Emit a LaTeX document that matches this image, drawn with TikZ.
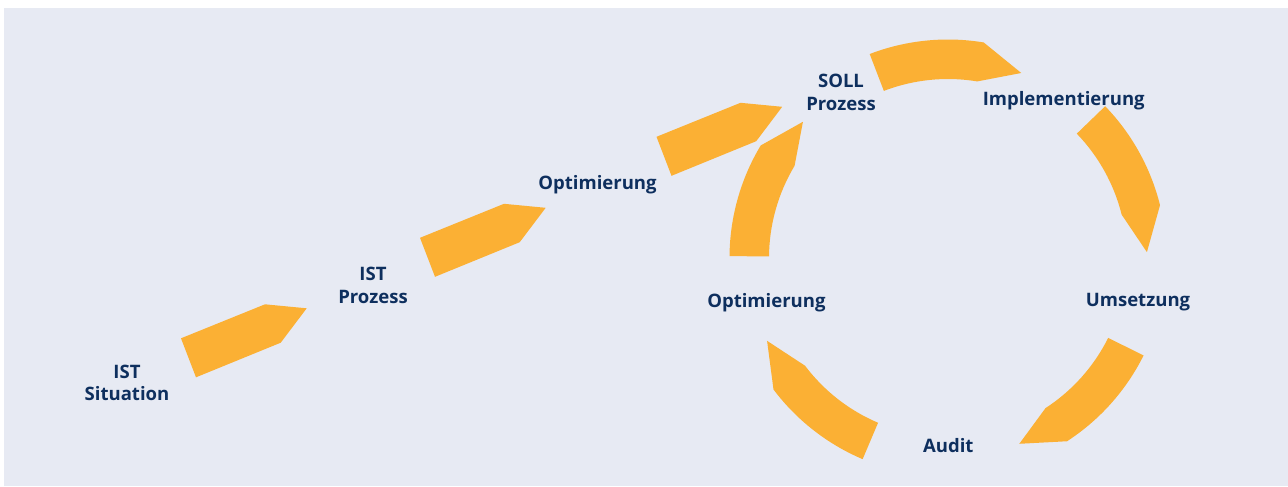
\documentclass[tikz,border=0pt]{standalone}
\usepackage{fontspec}
\setmainfont{Open Sans}
\usetikzlibrary{calc}
\definecolor{bg}{RGB}{231,234,243}
\definecolor{arr}{RGB}{251,176,52}
\definecolor{navy}{RGB}{14,47,94}
\begin{document}
\begin{tikzpicture}[x=0.75pt,y=-0.75pt,
  lbl/.style={text=navy,font=\bfseries\fontsize{13.9}{16.9}\selectfont,inner sep=0pt,align=center},
  arrowfill/.style={fill=arr}]
\useasboundingbox (0,0) rectangle (1288,486);
\fill[white] (0,0) rectangle (1288,486);
\fill[bg] (4,8) rectangle (1288,486);
\coordinate (c) at (948,258);
% straight arrows
\foreach \dx/\dy in {0/0, 239/-100.5, 475.5/-201.5} {
  \fill[arrowfill,shift={(\dx,\dy)}] (181,338.3) -- (265,304.3) -- (306.7,308.3) -- (280.7,342.7) -- (196,377.3) -- cycle;
}
% circular arrows
\foreach \a/\b/\t in {111/80.6/68.4, 44/14/1.7, -26.5/-57/-69, -113/-143/-155.4, 179.5/149/136.8} {
  \fill[arrowfill] ($(c)+(\a:163.875pt)$) arc[start angle=\a, end angle=\b, radius=163.875pt]
    -- ($(c)+(\t:149.25pt)$) -- ($(c)+(\b:134.25pt)$)
    arc[start angle=\b, end angle=\a, radius=134.25pt] -- cycle;
}
% labels
\node[lbl] (istsit) at (127,382.9) {IST\\Situation};
\node[lbl] (istproz) at (373,285.3) {IST\\Prozess};
\node[lbl,anchor=base] (opt1) at (597.5,189.3) {Optimierung};
\node[lbl] (soll) at (841,92.5) {SOLL\\Prozess};
\node[lbl,anchor=base] (impl) at (1063.7,105) {Implementierung};
\node[lbl,anchor=base] (opt2) at (766.4,307.3) {Optimierung};
\node[lbl,anchor=base] (ums) at (1138,306.7) {Umsetzung};
\node[lbl,anchor=base] (audit) at (948.3,452.3) {Audit};
\end{tikzpicture}
\end{document}
